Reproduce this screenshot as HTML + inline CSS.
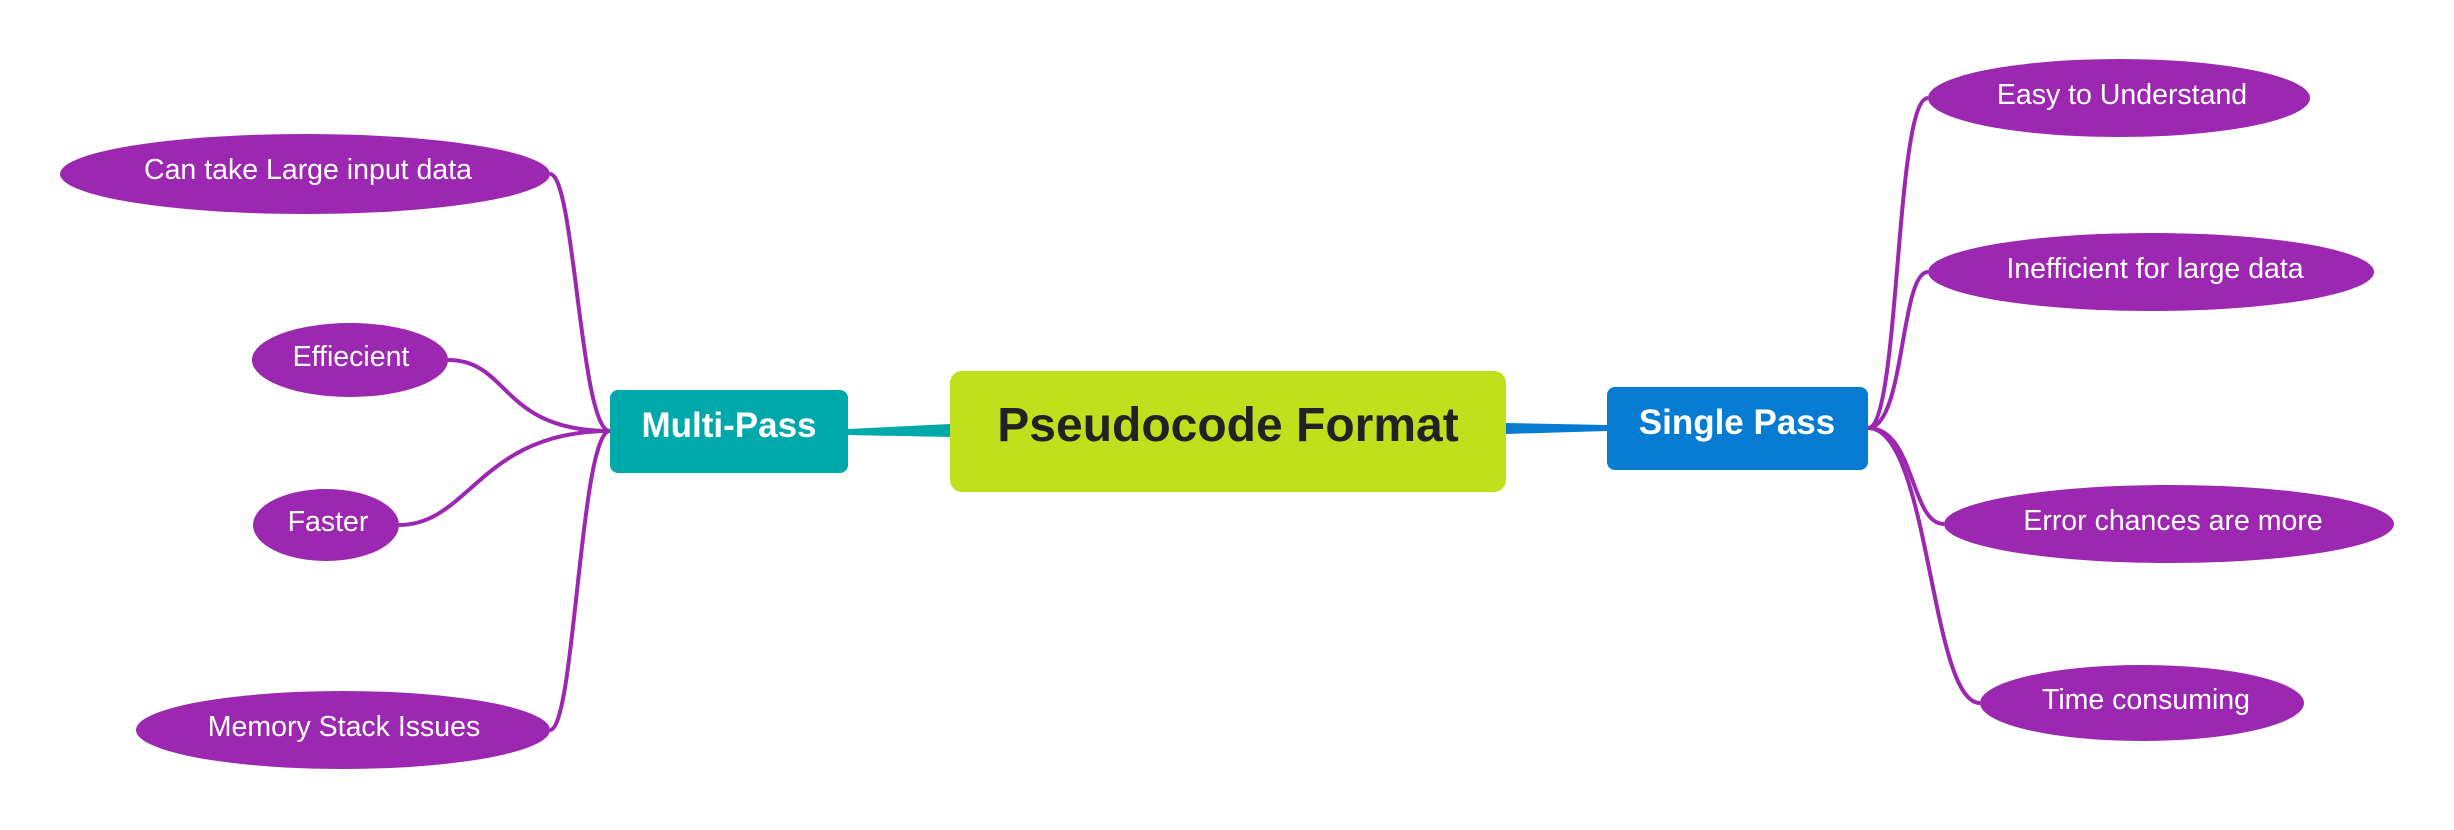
<!DOCTYPE html>
<html><head><meta charset="utf-8"><style>html,body{margin:0;padding:0;background:#fff;}svg{display:block}</style></head>
<body>
<svg width="2454" height="830" viewBox="0 0 2454 830" xmlns="http://www.w3.org/2000/svg" font-family="'Liberation Sans', Arial, sans-serif">
<g fill="none" stroke="#9c27b0" stroke-width="4">
<path d="M550,174 C575,174 580,431 610,431"/>
<path d="M448,360 C510,360 500,431 610,431"/>
<path d="M399,525 C470,525 480,431 610,431"/>
<path d="M550,730 C575,730 580,431 610,431"/>
<path d="M1868,428 C1900,428 1895,98 1928,98"/>
<path d="M1868,428 C1905,428 1900,272 1928,272"/>
<path d="M1868,428 C1915,428 1910,524 1944,524"/>
<path d="M1868,428 C1930,428 1930,703 1980,703"/>
</g>
<polygon points="848,429 950,424 950,437 848,435" fill="#00a9a9"/>
<polygon points="1506,423 1607,425 1607,431 1506,434" fill="#067bd2"/>
<rect x="950" y="371" width="556" height="121" rx="12" fill="#c0e01e"/>
<text x="1228" y="441" font-size="48" font-weight="bold" fill="#222" text-anchor="middle">Pseudocode Format</text>
<rect x="610" y="390" width="238" height="83" rx="8" fill="#00a9a9"/>
<text x="729" y="437" font-size="35" font-weight="bold" fill="#fff" text-anchor="middle">Multi-Pass</text>
<rect x="1607" y="387" width="261" height="83" rx="8" fill="#067bd2"/>
<text x="1737" y="434" font-size="35" font-weight="bold" fill="#fff" text-anchor="middle">Single Pass</text>
<g fill="#9c27b0">
<ellipse cx="305" cy="174" rx="245" ry="40"/>
<ellipse cx="350" cy="360" rx="98" ry="37"/>
<ellipse cx="326" cy="525" rx="73" ry="36"/>
<ellipse cx="343" cy="730" rx="207" ry="39"/>
<ellipse cx="2119" cy="98" rx="191" ry="39"/>
<ellipse cx="2151" cy="272" rx="223" ry="39"/>
<ellipse cx="2169" cy="524" rx="225" ry="39"/>
<ellipse cx="2142" cy="703" rx="162" ry="38"/>
</g>
<g fill="#fff" font-size="28.5" text-anchor="middle">
<text x="308" y="179">Can take Large input data</text>
<text x="351" y="366">Effiecient</text>
<text x="328" y="531">Faster</text>
<text x="344" y="736">Memory Stack Issues</text>
<text x="2122" y="104">Easy to Understand</text>
<text x="2155" y="278">Inefficient for large data</text>
<text x="2173" y="530">Error chances are more</text>
<text x="2146" y="709">Time consuming</text>
</g>
</svg>
</body></html>
